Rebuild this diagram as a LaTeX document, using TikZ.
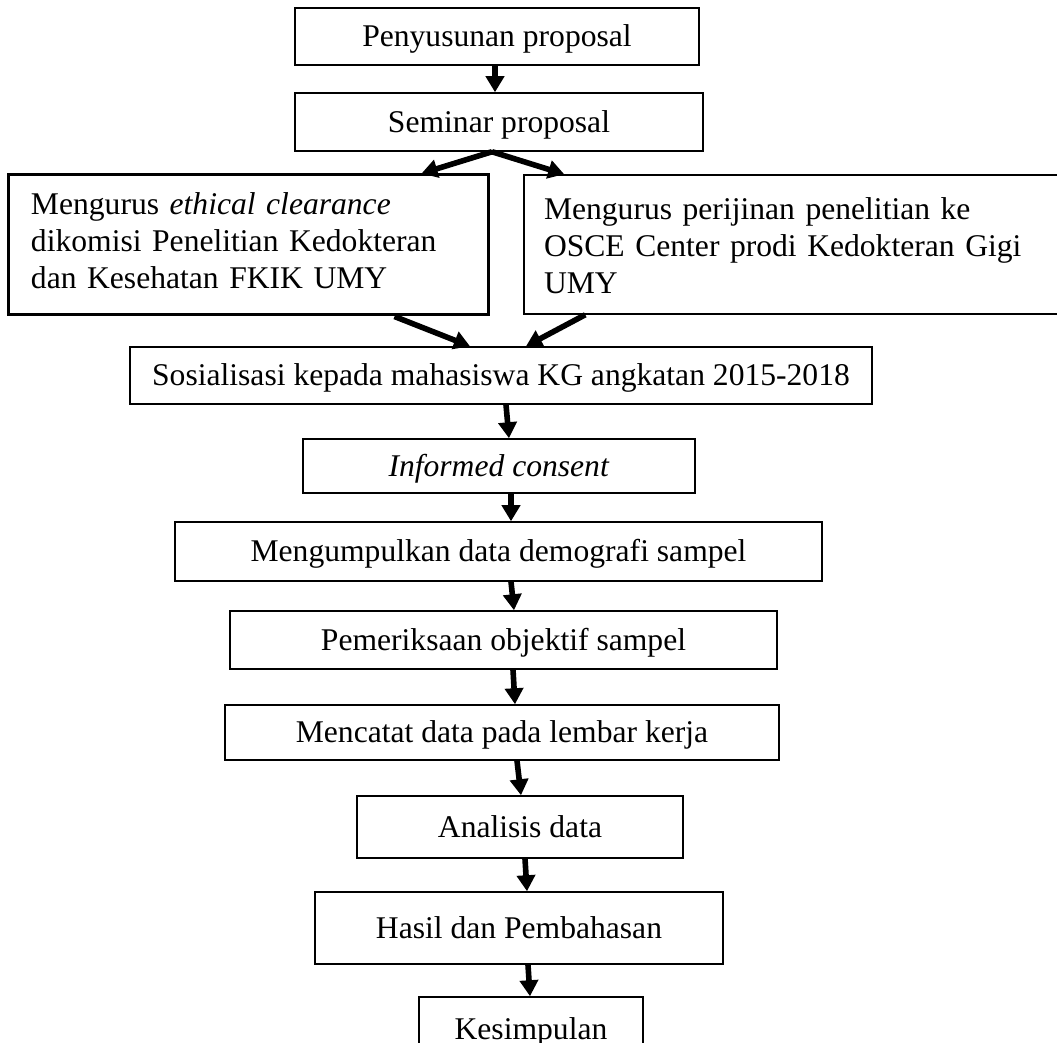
\documentclass[tikz,border=0pt]{standalone}
\usepackage{fontspec}
\setmainfont{Liberation Serif}
\usetikzlibrary{arrows.meta,calc}
\begin{document}
\begin{tikzpicture}[x=0.5pt,y=-0.5pt,
  box/.style={draw=black,line width=0.75pt,rectangle,inner sep=0pt,
    text height=10.5pt,text depth=0pt,font=\fontsize{15.8pt}{18.5pt}\selectfont},
  multibox/.style={box,align=left,text height=0pt},
  arr/.style={draw=black,line width=2.8pt,-{Triangle[width=9pt,length=8pt]}}]
\clip (0,0) rectangle (1057,1043);
\fill[white] (0,0) rectangle (1057,1043);
% boxes
\node[box,minimum width=202pt,minimum height=28.5pt] (b1) at (497,36.5) {Penyusunan proposal};
\node[box,minimum width=204pt,minimum height=29pt] (b2) at (499,122) {Seminar proposal};
\node[multibox,line width=1.5pt,text width=217pt,inner xsep=11.5pt,text depth=30pt,
      minimum width=240pt,minimum height=70pt] (lb) at (248,245)
  {Mengurus \textit{ethical clearance}\\dikomisi Penelitian Kedokteran\\dan Kesehatan FKIK UMY};
\node[multibox,text width=249pt,inner xsep=10pt,text depth=24.5pt,
      minimum width=269pt,minimum height=69.5pt] (rb) at (793,244.5)
  {Mengurus perijinan penelitian ke\\OSCE Center prodi Kedokteran Gigi\\UMY};
\node[box,minimum width=371pt,minimum height=28.5pt] (sos) at (501,375.5) {Sosialisasi kepada mahasiswa KG angkatan 2015-2018};
\node[box,minimum width=196pt,minimum height=27pt] (inf) at (499,466) {\textit{Informed consent}};
\node[box,minimum width=323.5pt,minimum height=29.5pt] (mgk) at (498.5,551.5) {Mengumpulkan data demografi sampel};
\node[box,minimum width=273.5pt,minimum height=29pt] (pem) at (503.5,640) {Pemeriksaan objektif sampel};
\node[box,minimum width=277pt,minimum height=27.5pt] (mcc) at (502,732.5) {Mencatat data pada lembar kerja};
\node[box,minimum width=163pt,minimum height=31pt] (ana) at (520,827) {Analisis data};
\node[box,minimum width=204pt,minimum height=36pt] (has) at (519,928) {Hasil dan Pembahasan};
\node[box,minimum width=112pt,minimum height=31.5pt] (kes) at (531,1028.5) {Kesimpulan};
% arrows
\draw[arr] ($(b1.south)+(-2,0)$) -- ($(b2.north)+(-4,0)$);
\draw[arr] ($(b2.south)+(-7,0)$) -- ($(lb.north east)+(-68,0)$);
\draw[arr] ($(b2.south)+(-7,0)$) -- ($(rb.north west)+(41,0)$);
\draw[arr] ($(lb.south east)+(-95,0)$) -- ($(sos.north)+(-31,0)$);
\draw[arr] ($(rb.south west)+(62,0)$) -- ($(sos.north)+(25,0)$);
\draw[arr] ($(sos.south)+(5,0)$) -- ($(inf.north)+(10,0)$);
\draw[arr] ($(inf.south)+(12,0)$) -- ($(mgk.north)+(12.5,0)$);
\draw[arr] ($(mgk.south)+(12.5,0)$) -- ($(pem.north)+(10.5,0)$);
\draw[arr] ($(pem.south)+(9.5,0)$) -- ($(mcc.north)+(13,0)$);
\draw[arr] ($(mcc.south)+(15,0)$) -- ($(ana.north)+(1,0)$);
\draw[arr] ($(ana.south)+(5,0)$) -- ($(has.north)+(8,0)$);
\draw[arr] ($(has.south)+(9,0)$) -- ($(kes.north)+(-1,0)$);
\end{tikzpicture}
\end{document}
